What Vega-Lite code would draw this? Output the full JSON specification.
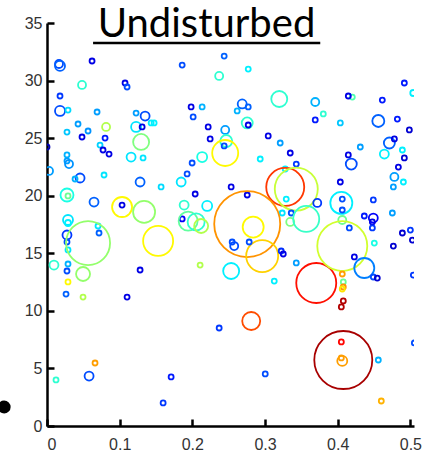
{
  "$schema": "https://vega.github.io/schema/vega-lite/v6.json",
  "autosize": "none",
  "width": 367,
  "height": 403,
  "padding": {"left": 47, "top": 23, "right": 15, "bottom": 29},
  "background": "white",
  "config": {"view": {"stroke": null}},
  "title": {"text": "Undisturbed", "font": "Lato", "fontSize": 40, "fontWeight": "normal", "color": "black", "anchor": "middle", "frame": "group", "baseline": "alphabetic", "offset": -62, "dx": -24},
  "layer": [
    {
      "data": {"values": [
        {"x":0.0165,"y":31.44,"m":8,"c":0.2},{"x":0.0179,"y":31.27,"m":10,"c":0.22},{"x":0.062,"y":31.7,"m":5,"c":0.1},{"x":0.0482,"y":29.62,"m":8,"c":0.42},
        {"x":0.1074,"y":29.79,"m":5,"c":0.1},{"x":0.1102,"y":29.44,"m":5,"c":0.2},{"x":0.0179,"y":28.66,"m":5,"c":0.18},{"x":0.0179,"y":27.36,"m":10,"c":0.2},
        {"x":0.0289,"y":27.44,"m":5,"c":0.34},{"x":0.0689,"y":27.27,"m":5,"c":0.28},{"x":0.1226,"y":27.18,"m":5,"c":0.28},{"x":0.0427,"y":26.23,"m":5,"c":0.28},
        {"x":0.0275,"y":25.53,"m":5,"c":0.32},{"x":0.0565,"y":25.62,"m":5,"c":0.27},{"x":0.0482,"y":25.1,"m":5,"c":0.1},{"x":0.0813,"y":25.97,"m":8,"c":0.55},
        {"x":0.0799,"y":25.01,"m":5,"c":0.15},{"x":0.073,"y":24.4,"m":5,"c":0.33},{"x":0.0771,"y":23.97,"m":5,"c":0.1},{"x":0.0854,"y":23.62,"m":5,"c":0.1},
        {"x":0.1226,"y":25.97,"m":10,"c":0.35},{"x":0.1309,"y":25.97,"m":5,"c":0.1},{"x":0.1433,"y":26.32,"m":5,"c":0.36},{"x":0.1474,"y":26.32,"m":5,"c":0.36},
        {"x":0.1295,"y":24.67,"m":16,"c":0.5},{"x":0.1157,"y":23.36,"m":9,"c":0.35},{"x":0.0275,"y":23.54,"m":5,"c":0.3},{"x":0.0275,"y":23.02,"m":5,"c":0.28},
        {"x":0.0303,"y":22.75,"m":8,"c":0.27},{"x":0.0,"y":24.23,"m":5,"c":0.05},{"x":0.0028,"y":22.15,"m":8,"c":0.28},{"x":0.186,"y":31.35,"m":5,"c":0.2},
        {"x":0.2438,"y":32.13,"m":5,"c":0.22},{"x":0.2369,"y":30.4,"m":8,"c":0.42},{"x":0.2769,"y":31.0,"m":5,"c":0.36},{"x":0.3196,"y":28.4,"m":16,"c":0.42},
        {"x":0.3691,"y":28.14,"m":8,"c":0.3},{"x":0.4201,"y":28.57,"m":5,"c":0.45},{"x":0.4146,"y":28.66,"m":5,"c":0.1},{"x":0.4614,"y":28.31,"m":5,"c":0.15},
        {"x":0.4917,"y":29.79,"m":5,"c":0.15},{"x":0.2686,"y":27.97,"m":9,"c":0.22},{"x":0.2617,"y":27.36,"m":5,"c":0.3},{"x":0.2769,"y":27.71,"m":5,"c":0.22},
        {"x":0.2755,"y":26.32,"m":11,"c":0.42},{"x":0.2769,"y":26.14,"m":5,"c":0.1},{"x":0.3691,"y":26.58,"m":5,"c":0.15},{"x":0.3802,"y":27.1,"m":5,"c":0.42},
        {"x":0.4036,"y":26.32,"m":5,"c":0.32},{"x":0.4559,"y":26.49,"m":12,"c":0.22},{"x":0.4821,"y":26.66,"m":5,"c":0.15},{"x":0.4986,"y":25.71,"m":5,"c":0.08},
        {"x":0.1983,"y":27.71,"m":5,"c":0.1},{"x":0.2135,"y":27.71,"m":5,"c":0.3},{"x":0.2011,"y":26.84,"m":5,"c":0.2},{"x":0.2218,"y":25.97,"m":5,"c":0.1},
        {"x":0.2245,"y":24.93,"m":5,"c":0.1},{"x":0.2452,"y":25.71,"m":8,"c":0.28},{"x":0.2466,"y":24.75,"m":12,"c":0.42},{"x":0.2438,"y":24.32,"m":5,"c":0.2},
        {"x":0.2452,"y":23.71,"m":26,"c":0.63},{"x":0.3044,"y":25.19,"m":5,"c":0.1},{"x":0.3209,"y":24.58,"m":5,"c":0.28},{"x":0.3347,"y":23.71,"m":5,"c":0.1},
        {"x":0.2934,"y":23.19,"m":5,"c":0.36},{"x":0.343,"y":22.75,"m":5,"c":0.18},{"x":0.135,"y":26.92,"m":9,"c":0.2},{"x":0.2135,"y":23.36,"m":10,"c":0.4},
        {"x":0.1997,"y":22.84,"m":5,"c":0.2},{"x":0.1322,"y":23.28,"m":5,"c":0.35},{"x":0.4711,"y":24.58,"m":11,"c":0.22},{"x":0.478,"y":24.93,"m":5,"c":0.1},
        {"x":0.4642,"y":23.62,"m":9,"c":0.36},{"x":0.489,"y":23.97,"m":5,"c":0.36},{"x":0.4917,"y":23.28,"m":5,"c":0.08},{"x":0.4146,"y":23.54,"m":5,"c":0.1},
        {"x":0.4187,"y":22.75,"m":11,"c":0.2},{"x":0.4311,"y":24.23,"m":5,"c":0.28},{"x":0.4835,"y":22.49,"m":5,"c":0.1},{"x":0.504,"y":28.92,"m":6,"c":0.36},
        {"x":0.1928,"y":21.89,"m":5,"c":0.2},{"x":0.1846,"y":21.19,"m":9,"c":0.35},{"x":0.157,"y":20.76,"m":5,"c":0.34},{"x":0.0785,"y":21.8,"m":5,"c":0.35},
        {"x":0.0455,"y":21.54,"m":9,"c":0.2},{"x":0.0386,"y":21.45,"m":5,"c":0.3},{"x":0.1281,"y":21.19,"m":9,"c":0.22},
        {"x":0.0275,"y":20.06,"m":13,"c":0.4},{"x":0.0289,"y":19.98,"m":5,"c":0.48},{"x":0.0647,"y":19.45,"m":9,"c":0.22},{"x":0.1033,"y":19.02,"m":20,"c":0.63},
        {"x":0.1033,"y":19.19,"m":5,"c":0.1},{"x":0.1336,"y":18.59,"m":22,"c":0.52},{"x":0.2039,"y":20.15,"m":5,"c":0.1},{"x":0.1887,"y":19.19,"m":9,"c":0.42},
        {"x":0.2204,"y":19.11,"m":10,"c":0.36},{"x":0.186,"y":17.98,"m":5,"c":0.12},{"x":0.1942,"y":17.8,"m":19,"c":0.47},{"x":0.2052,"y":17.72,"m":17,"c":0.42},
        {"x":0.2121,"y":17.37,"m":14,"c":0.55},{"x":0.0289,"y":17.89,"m":10,"c":0.35},{"x":0.0289,"y":17.63,"m":6,"c":0.36},{"x":0.0702,"y":17.37,"m":5,"c":0.35},
        {"x":0.0716,"y":16.76,"m":5,"c":0.22},{"x":0.0275,"y":16.59,"m":9,"c":0.18},{"x":0.0275,"y":15.98,"m":5,"c":0.2},{"x":0.0289,"y":15.29,"m":5,"c":0.35},
        {"x":0.0565,"y":15.89,"m":44,"c":0.52},{"x":0.1529,"y":16.07,"m":30,"c":0.63},{"x":0.2107,"y":13.98,"m":5,"c":0.55},{"x":0.1281,"y":13.55,"m":5,"c":0.1},
        {"x":0.0096,"y":13.98,"m":9,"c":0.42},{"x":0.0289,"y":14.07,"m":5,"c":0.3},{"x":0.0275,"y":13.46,"m":5,"c":0.2},{"x":0.0496,"y":13.2,"m":14,"c":0.52},
        {"x":0.0289,"y":12.51,"m":5,"c":0.63},{"x":0.0262,"y":11.46,"m":5,"c":0.22},{"x":0.0496,"y":11.2,"m":5,"c":0.55},{"x":0.1102,"y":11.2,"m":5,"c":0.1},
        {"x":0.3278,"y":22.32,"m":5,"c":0.36},{"x":0.2534,"y":20.76,"m":5,"c":0.1},{"x":0.2755,"y":20.06,"m":5,"c":0.1},{"x":0.3278,"y":20.76,"m":38,"c":0.82},
        {"x":0.343,"y":20.58,"m":43,"c":0.57},{"x":0.3292,"y":19.71,"m":5,"c":0.36},{"x":0.3237,"y":18.5,"m":5,"c":0.35},{"x":0.3361,"y":18.5,"m":5,"c":0.2},
        {"x":0.3347,"y":17.72,"m":8,"c":0.5},{"x":0.3567,"y":17.98,"m":26,"c":0.43},{"x":0.3719,"y":19.37,"m":8,"c":0.18},{"x":0.2755,"y":17.54,"m":66,"c":0.73},
        {"x":0.2837,"y":17.28,"m":21,"c":0.63},{"x":0.2961,"y":14.76,"m":32,"c":0.67},{"x":0.2548,"y":15.98,"m":5,"c":0.2},{"x":0.2576,"y":15.63,"m":8,"c":0.2},
        {"x":0.2782,"y":15.98,"m":5,"c":0.2},{"x":0.3223,"y":15.2,"m":5,"c":0.17},{"x":0.3251,"y":14.94,"m":5,"c":0.1},{"x":0.343,"y":14.16,"m":5,"c":0.28},
        {"x":0.2534,"y":13.46,"m":16,"c":0.36},{"x":0.3127,"y":12.59,"m":5,"c":0.36},{"x":0.3705,"y":12.42,"m":40,"c":0.86},{"x":0.4036,"y":21.19,"m":5,"c":0.1},
        {"x":0.405,"y":19.37,"m":22,"c":0.36},{"x":0.4063,"y":19.71,"m":5,"c":0.2},{"x":0.4063,"y":18.76,"m":5,"c":0.2},{"x":0.4063,"y":17.89,"m":8,"c":0.48},
        {"x":0.4063,"y":15.63,"m":50,"c":0.58},{"x":0.416,"y":17.2,"m":5,"c":0.2},{"x":0.449,"y":19.63,"m":5,"c":0.18},{"x":0.4366,"y":18.24,"m":5,"c":0.15},
        {"x":0.449,"y":18.06,"m":9,"c":0.12},{"x":0.4477,"y":17.72,"m":5,"c":0.1},{"x":0.4477,"y":17.2,"m":5,"c":0.18},{"x":0.4752,"y":18.5,"m":5,"c":0.28},
        {"x":0.4504,"y":15.89,"m":5,"c":0.4},{"x":0.4229,"y":14.68,"m":5,"c":0.1},{"x":0.4366,"y":13.72,"m":20,"c":0.25},{"x":0.449,"y":12.94,"m":5,"c":0.2},
        {"x":0.4545,"y":12.85,"m":5,"c":0.08},{"x":0.4063,"y":13.2,"m":5,"c":0.72},{"x":0.4077,"y":12.51,"m":5,"c":0.48},{"x":0.4077,"y":12.07,"m":5,"c":0.73},
        {"x":0.4063,"y":11.9,"m":5,"c":0.65},{"x":0.4077,"y":10.86,"m":5,"c":0.95},{"x":0.405,"y":10.34,"m":5,"c":0.95},{"x":0.478,"y":21.63,"m":8,"c":0.28},
        {"x":0.4904,"y":21.19,"m":5,"c":0.36},{"x":0.4766,"y":20.76,"m":5,"c":0.28},{"x":0.5,"y":17.02,"m":5,"c":0.18},{"x":0.489,"y":16.76,"m":5,"c":0.08},
        {"x":0.5028,"y":16.15,"m":5,"c":0.08},{"x":0.4766,"y":15.63,"m":5,"c":0.08},{"x":0.5041,"y":13.11,"m":5,"c":0.18},
        {"x":0.2369,"y":8.51,"m":5,"c":0.18},{"x":0.281,"y":9.12,"m":18,"c":0.8},{"x":0.405,"y":7.3,"m":5,"c":0.87},{"x":0.4077,"y":5.73,"m":58,"c":0.96},
        {"x":0.405,"y":5.91,"m":5,"c":0.72},{"x":0.4063,"y":5.65,"m":10,"c":0.72},{"x":0.4559,"y":5.73,"m":5,"c":0.3},{"x":0.5055,"y":7.21,"m":5,"c":0.2},
        {"x":0.3003,"y":4.52,"m":5,"c":0.2},{"x":0.46,"y":2.17,"m":5,"c":0.7},{"x":0.0661,"y":5.47,"m":5,"c":0.72},{"x":0.0124,"y":4.0,"m":5,"c":0.42},
        {"x":0.0579,"y":4.34,"m":9,"c":0.2},{"x":0.1708,"y":4.26,"m":5,"c":0.15},{"x":0.1598,"y":2.0,"m":5,"c":0.18}
      ]},
      "mark": {"type": "point", "shape": "circle", "filled": false, "strokeWidth": 1.8, "opacity": 1, "clip": true},
      "encoding": {
        "x": {"field": "x", "type": "quantitative", "scale": {"domain": [0, 0.505], "nice": false, "zero": false},
          "axis": {"values": [0, 0.1, 0.2, 0.3, 0.4, 0.5], "format": ".1~f", "title": null, "grid": false, "domainColor": "black", "domainWidth": 2.5, "tickColor": "black", "tickWidth": 2.5, "tickSize": -7, "labelFont": "Liberation Sans", "labelFontSize": 16, "labelColor": "#333333", "labelPadding": 17}},
        "y": {"field": "y", "type": "quantitative", "scale": {"domain": [0, 35], "nice": false},
          "axis": {"values": [0, 5, 10, 15, 20, 25, 30, 35], "format": "d", "title": null, "grid": false, "domainColor": "black", "domainWidth": 2.5, "tickColor": "black", "tickWidth": 2.5, "tickSize": -7, "labelFont": "Liberation Sans", "labelFontSize": 16, "labelColor": "#333333", "labelPadding": 12}},
        "size": {"field": "m", "type": "quantitative", "scale": {"type": "pow", "exponent": 2, "domain": [0, 70], "range": [0, 4900]}, "legend": null},
        "color": {"field": "c", "type": "quantitative", "scale": {"domain": [0, 0.125, 0.25, 0.375, 0.5, 0.625, 0.75, 0.875, 1], "range": ["#00007f", "#0000ff", "#007fff", "#00ffff", "#7fff7f", "#ffff00", "#ff7f00", "#ff0000", "#7f0000"], "interpolate": "rgb"}, "legend": null}
      }
    },
    {
      "data": {"values": [{"x": -0.059, "y": 1.65}]},
      "mark": {"type": "circle", "color": "black", "opacity": 1, "size": 170, "clip": false},
      "encoding": {"x": {"field": "x", "type": "quantitative"}, "y": {"field": "y", "type": "quantitative"}}
    },
    {
      "data": {"values": [{}]},
      "mark": {"type": "rule", "color": "black", "strokeWidth": 2.5, "clip": false},
      "encoding": {"x": {"datum": 0.0634}, "x2": {"datum": 0.376}, "y": {"datum": 33.26}}
    }
  ]
}
